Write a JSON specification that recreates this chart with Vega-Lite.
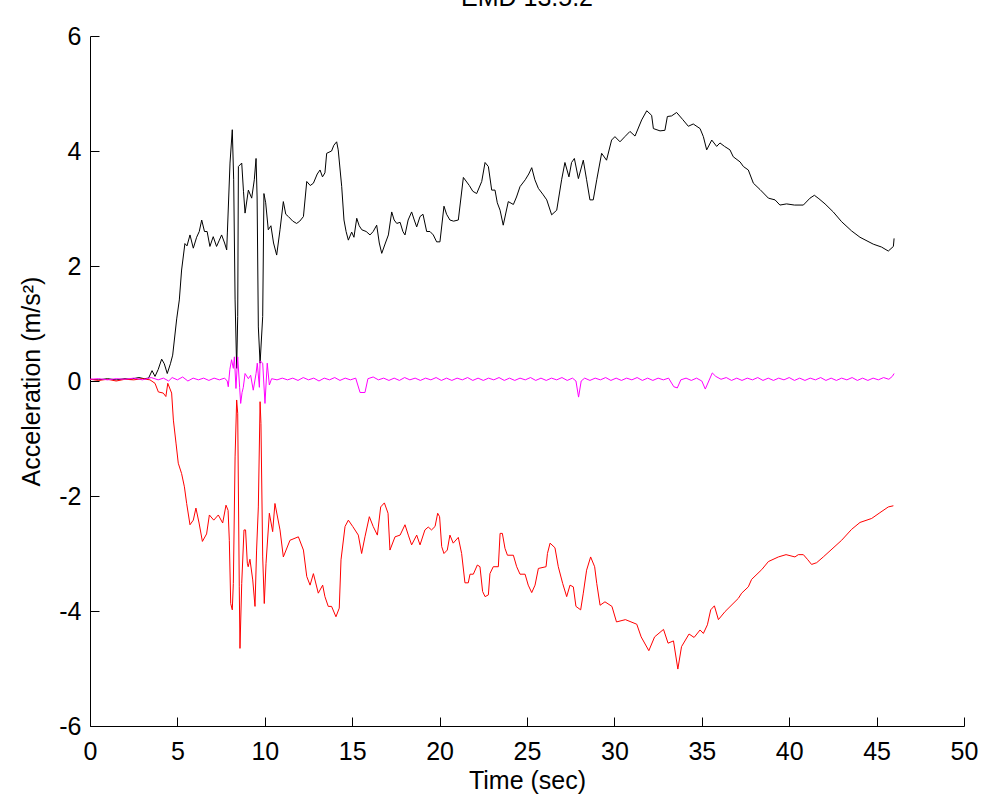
{
  "$schema": "https://vega.github.io/schema/vega-lite/v6.json",
  "width": 874,
  "height": 690,
  "autosize": {"type": "none"},
  "padding": {"left": 90, "top": 36, "right": 20, "bottom": 77},
  "background": "white",
  "config": {
    "view": {"stroke": null},
    "font": "Liberation Sans",
    "axis": {
      "grid": false,
      "domainColor": "#000000",
      "domainWidth": 1,
      "tickColor": "#000000",
      "tickWidth": 1,
      "tickSize": -9,
      "labelFlush": false,
      "labelFont": "Liberation Sans",
      "labelFontSize": 25,
      "labelColor": "#000000",
      "titleFont": "Liberation Sans",
      "titleFontSize": 25,
      "titleFontWeight": "normal",
      "titleColor": "#000000"
    }
  },
  "title": {
    "text": "EMD 13.5.2",
    "font": "Liberation Sans",
    "fontSize": 25,
    "fontWeight": "normal",
    "color": "#000000",
    "baseline": "alphabetic",
    "offset": 6,
    "dy": 13
  },
  "datasets": {
    "black": [
      {"t":0,"v":0.03},{"t":0.5,"v":0.02},{"t":1.0,"v":0.04},{"t":1.5,"v":0.02},{"t":2.0,"v":0.04},{"t":2.3,"v":0.03},{"t":2.8,"v":0.06},{"t":3.1,"v":0.04},{"t":3.35,"v":0.05},{"t":3.55,"v":0.18},{"t":3.72,"v":0.08},{"t":3.9,"v":0.2},{"t":4.1,"v":0.38},{"t":4.25,"v":0.3},{"t":4.42,"v":0.13},{"t":4.6,"v":0.3},{"t":4.73,"v":0.45},{"t":4.96,"v":1.08},{"t":5.11,"v":1.41},{"t":5.24,"v":1.93},{"t":5.43,"v":2.39},{"t":5.55,"v":2.35},{"t":5.72,"v":2.54},{"t":5.91,"v":2.31},{"t":6.1,"v":2.5},{"t":6.25,"v":2.6},{"t":6.39,"v":2.8},{"t":6.55,"v":2.6},{"t":6.7,"v":2.6},{"t":6.86,"v":2.34},{"t":7.05,"v":2.51},{"t":7.24,"v":2.34},{"t":7.4,"v":2.45},{"t":7.53,"v":2.54},{"t":7.7,"v":2.4},{"t":7.82,"v":2.28},{"t":7.86,"v":2.59},{"t":8.01,"v":3.79},{"t":8.14,"v":4.37},{"t":8.22,"v":3.5},{"t":8.3,"v":1.41},{"t":8.39,"v":0.22},{"t":8.45,"v":1.12},{"t":8.49,"v":3.73},{"t":8.68,"v":3.79},{"t":8.78,"v":3.3},{"t":8.87,"v":2.92},{"t":9.06,"v":3.32},{"t":9.25,"v":3.18},{"t":9.4,"v":3.5},{"t":9.5,"v":3.87},{"t":9.56,"v":3.2},{"t":9.63,"v":0.94},{"t":9.73,"v":0.31},{"t":9.88,"v":1.12},{"t":9.95,"v":3.26},{"t":10.05,"v":3.1},{"t":10.2,"v":2.63},{"t":10.35,"v":2.7},{"t":10.5,"v":2.4},{"t":10.68,"v":2.19},{"t":10.87,"v":2.63},{"t":11.06,"v":3.12},{"t":11.2,"v":2.9},{"t":11.35,"v":2.86},{"t":11.6,"v":2.78},{"t":11.82,"v":2.74},{"t":12.0,"v":2.78},{"t":12.21,"v":2.86},{"t":12.4,"v":3.47},{"t":12.6,"v":3.4},{"t":12.78,"v":3.44},{"t":13.0,"v":3.6},{"t":13.16,"v":3.67},{"t":13.3,"v":3.55},{"t":13.44,"v":3.62},{"t":13.54,"v":3.96},{"t":13.82,"v":4.0},{"t":13.95,"v":4.1},{"t":14.11,"v":4.16},{"t":14.2,"v":4.02},{"t":14.4,"v":3.38},{"t":14.53,"v":2.8},{"t":14.65,"v":2.6},{"t":14.78,"v":2.45},{"t":14.97,"v":2.59},{"t":15.1,"v":2.5},{"t":15.26,"v":2.83},{"t":15.4,"v":2.7},{"t":15.55,"v":2.63},{"t":15.8,"v":2.6},{"t":16.02,"v":2.54},{"t":16.2,"v":2.6},{"t":16.4,"v":2.71},{"t":16.55,"v":2.4},{"t":16.69,"v":2.22},{"t":16.9,"v":2.4},{"t":17.07,"v":2.54},{"t":17.26,"v":2.94},{"t":17.4,"v":2.8},{"t":17.55,"v":2.74},{"t":17.74,"v":2.76},{"t":17.9,"v":2.6},{"t":18.02,"v":2.54},{"t":18.2,"v":2.8},{"t":18.4,"v":2.94},{"t":18.55,"v":2.8},{"t":18.69,"v":2.68},{"t":18.88,"v":2.86},{"t":19.05,"v":2.9},{"t":19.26,"v":2.6},{"t":19.45,"v":2.6},{"t":19.64,"v":2.54},{"t":19.83,"v":2.42},{"t":20.02,"v":2.42},{"t":20.25,"v":3.04},{"t":20.4,"v":2.9},{"t":20.59,"v":2.8},{"t":20.8,"v":2.78},{"t":21.07,"v":2.8},{"t":21.36,"v":3.54},{"t":21.7,"v":3.4},{"t":21.9,"v":3.3},{"t":22.12,"v":3.26},{"t":22.41,"v":3.47},{"t":22.6,"v":3.8},{"t":22.79,"v":3.73},{"t":22.98,"v":3.32},{"t":23.17,"v":3.32},{"t":23.3,"v":3.1},{"t":23.46,"v":2.97},{"t":23.64,"v":2.71},{"t":23.93,"v":3.12},{"t":24.22,"v":3.07},{"t":24.4,"v":3.2},{"t":24.6,"v":3.38},{"t":24.9,"v":3.5},{"t":25.1,"v":3.6},{"t":25.27,"v":3.71},{"t":25.45,"v":3.5},{"t":25.65,"v":3.35},{"t":25.9,"v":3.25},{"t":26.13,"v":3.15},{"t":26.41,"v":2.89},{"t":26.7,"v":2.97},{"t":26.98,"v":3.5},{"t":27.17,"v":3.8},{"t":27.4,"v":3.55},{"t":27.55,"v":3.8},{"t":27.71,"v":3.87},{"t":27.94,"v":3.52},{"t":28.22,"v":3.84},{"t":28.41,"v":3.5},{"t":28.6,"v":3.15},{"t":28.79,"v":3.15},{"t":28.99,"v":3.5},{"t":29.27,"v":3.96},{"t":29.55,"v":3.84},{"t":29.84,"v":4.19},{"t":30.03,"v":4.25},{"t":30.32,"v":4.16},{"t":30.6,"v":4.25},{"t":30.89,"v":4.34},{"t":31.18,"v":4.26},{"t":31.56,"v":4.54},{"t":31.85,"v":4.7},{"t":32.13,"v":4.62},{"t":32.23,"v":4.39},{"t":32.61,"v":4.35},{"t":32.89,"v":4.36},{"t":33.03,"v":4.6},{"t":33.27,"v":4.61},{"t":33.56,"v":4.67},{"t":33.9,"v":4.55},{"t":34.23,"v":4.43},{"t":34.51,"v":4.47},{"t":34.9,"v":4.39},{"t":35.09,"v":4.25},{"t":35.28,"v":4.02},{"t":35.57,"v":4.19},{"t":35.85,"v":4.08},{"t":36.04,"v":4.14},{"t":36.3,"v":4.08},{"t":36.61,"v":4.02},{"t":36.8,"v":3.9},{"t":37.19,"v":3.81},{"t":37.38,"v":3.73},{"t":37.66,"v":3.67},{"t":37.95,"v":3.44},{"t":38.33,"v":3.33},{"t":38.81,"v":3.18},{"t":39.19,"v":3.15},{"t":39.47,"v":3.06},{"t":39.85,"v":3.08},{"t":40.3,"v":3.06},{"t":40.81,"v":3.06},{"t":41.19,"v":3.18},{"t":41.44,"v":3.23},{"t":41.7,"v":3.17},{"t":42.05,"v":3.08},{"t":42.52,"v":2.94},{"t":43.0,"v":2.77},{"t":43.57,"v":2.61},{"t":44.05,"v":2.5},{"t":44.81,"v":2.38},{"t":45.28,"v":2.33},{"t":45.67,"v":2.26},{"t":45.96,"v":2.34},{"t":46.0,"v":2.48}
    ],
    "red": [
      {"t":0,"v":0.03},{"t":0.5,"v":0.01},{"t":1.0,"v":0.03},{"t":1.5,"v":0.0},{"t":2.0,"v":0.03},{"t":2.5,"v":0.02},{"t":3.0,"v":0.04},{"t":3.43,"v":0.02},{"t":3.72,"v":-0.04},{"t":3.91,"v":-0.19},{"t":4.19,"v":-0.21},{"t":4.34,"v":-0.27},{"t":4.45,"v":-0.04},{"t":4.67,"v":-0.21},{"t":4.77,"v":-0.68},{"t":4.92,"v":-1.08},{"t":5.05,"v":-1.43},{"t":5.24,"v":-1.61},{"t":5.4,"v":-1.84},{"t":5.53,"v":-2.13},{"t":5.72,"v":-2.5},{"t":5.91,"v":-2.42},{"t":6.06,"v":-2.21},{"t":6.24,"v":-2.47},{"t":6.43,"v":-2.79},{"t":6.67,"v":-2.66},{"t":6.83,"v":-2.33},{"t":7.08,"v":-2.42},{"t":7.34,"v":-2.33},{"t":7.59,"v":-2.47},{"t":7.78,"v":-2.16},{"t":7.9,"v":-2.25},{"t":7.97,"v":-2.77},{"t":8.05,"v":-3.87},{"t":8.14,"v":-3.98},{"t":8.2,"v":-3.52},{"t":8.3,"v":-1.32},{"t":8.39,"v":-0.33},{"t":8.45,"v":-0.56},{"t":8.54,"v":-3.58},{"t":8.58,"v":-4.65},{"t":8.68,"v":-3.52},{"t":8.81,"v":-2.59},{"t":8.9,"v":-2.59},{"t":9.0,"v":-3.17},{"t":9.05,"v":-3.23},{"t":9.15,"v":-3.1},{"t":9.31,"v":-3.46},{"t":9.44,"v":-3.92},{"t":9.53,"v":-2.94},{"t":9.63,"v":-2.19},{"t":9.73,"v":-0.36},{"t":9.78,"v":-0.74},{"t":9.88,"v":-3.06},{"t":9.97,"v":-3.87},{"t":10.07,"v":-3.17},{"t":10.26,"v":-2.3},{"t":10.45,"v":-2.62},{"t":10.58,"v":-2.13},{"t":10.87,"v":-2.59},{"t":11.06,"v":-3.06},{"t":11.44,"v":-2.77},{"t":11.92,"v":-2.71},{"t":12.21,"v":-2.94},{"t":12.4,"v":-3.4},{"t":12.59,"v":-3.55},{"t":12.78,"v":-3.35},{"t":13.06,"v":-3.69},{"t":13.31,"v":-3.55},{"t":13.44,"v":-3.75},{"t":13.63,"v":-3.92},{"t":13.82,"v":-3.92},{"t":14.07,"v":-4.1},{"t":14.26,"v":-3.95},{"t":14.36,"v":-3.11},{"t":14.59,"v":-2.53},{"t":14.78,"v":-2.42},{"t":15.03,"v":-2.53},{"t":15.35,"v":-2.68},{"t":15.54,"v":-3.0},{"t":15.73,"v":-2.71},{"t":15.98,"v":-2.36},{"t":16.2,"v":-2.53},{"t":16.44,"v":-2.68},{"t":16.63,"v":-2.19},{"t":16.84,"v":-2.12},{"t":17.05,"v":-2.3},{"t":17.16,"v":-2.94},{"t":17.45,"v":-2.71},{"t":17.74,"v":-2.68},{"t":18.02,"v":-2.5},{"t":18.21,"v":-2.68},{"t":18.4,"v":-2.85},{"t":18.69,"v":-2.68},{"t":18.88,"v":-2.85},{"t":19.16,"v":-2.59},{"t":19.35,"v":-2.54},{"t":19.54,"v":-2.59},{"t":19.74,"v":-2.53},{"t":19.89,"v":-2.3},{"t":20.0,"v":-2.36},{"t":20.12,"v":-2.88},{"t":20.25,"v":-3.0},{"t":20.44,"v":-2.94},{"t":20.59,"v":-2.68},{"t":20.78,"v":-2.82},{"t":21.07,"v":-2.72},{"t":21.26,"v":-3.0},{"t":21.45,"v":-3.51},{"t":21.64,"v":-3.51},{"t":21.74,"v":-3.36},{"t":21.93,"v":-3.36},{"t":22.16,"v":-3.2},{"t":22.31,"v":-3.23},{"t":22.46,"v":-3.66},{"t":22.6,"v":-3.75},{"t":22.79,"v":-3.72},{"t":22.88,"v":-3.35},{"t":23.07,"v":-3.23},{"t":23.36,"v":-3.23},{"t":23.46,"v":-2.65},{"t":23.59,"v":-2.65},{"t":23.74,"v":-2.91},{"t":23.88,"v":-3.03},{"t":24.22,"v":-3.03},{"t":24.41,"v":-3.23},{"t":24.6,"v":-3.36},{"t":24.89,"v":-3.36},{"t":25.07,"v":-3.55},{"t":25.27,"v":-3.68},{"t":25.46,"v":-3.55},{"t":25.65,"v":-3.26},{"t":26.09,"v":-3.23},{"t":26.17,"v":-3.0},{"t":26.32,"v":-2.82},{"t":26.6,"v":-2.9},{"t":26.79,"v":-3.23},{"t":27.04,"v":-3.52},{"t":27.27,"v":-3.75},{"t":27.46,"v":-3.55},{"t":27.65,"v":-3.58},{"t":27.8,"v":-3.92},{"t":28.07,"v":-3.98},{"t":28.22,"v":-3.69},{"t":28.41,"v":-3.29},{"t":28.64,"v":-3.06},{"t":28.87,"v":-3.23},{"t":28.99,"v":-3.52},{"t":29.18,"v":-3.9},{"t":29.46,"v":-3.84},{"t":29.86,"v":-3.92},{"t":30.12,"v":-4.19},{"t":30.63,"v":-4.15},{"t":31.28,"v":-4.23},{"t":31.53,"v":-4.45},{"t":31.97,"v":-4.69},{"t":32.3,"v":-4.45},{"t":32.81,"v":-4.32},{"t":33.07,"v":-4.56},{"t":33.38,"v":-4.52},{"t":33.63,"v":-5.01},{"t":33.84,"v":-4.62},{"t":34.27,"v":-4.4},{"t":34.56,"v":-4.46},{"t":34.9,"v":-4.33},{"t":35.09,"v":-4.39},{"t":35.32,"v":-4.24},{"t":35.51,"v":-3.98},{"t":35.72,"v":-3.91},{"t":35.95,"v":-4.15},{"t":36.33,"v":-4.01},{"t":37.09,"v":-3.78},{"t":37.28,"v":-3.69},{"t":37.66,"v":-3.58},{"t":37.85,"v":-3.45},{"t":38.43,"v":-3.28},{"t":38.81,"v":-3.14},{"t":39.38,"v":-3.06},{"t":39.82,"v":-3.02},{"t":40.33,"v":-3.06},{"t":40.52,"v":-3.02},{"t":40.81,"v":-3.02},{"t":41.04,"v":-3.1},{"t":41.28,"v":-3.19},{"t":41.57,"v":-3.16},{"t":41.95,"v":-3.06},{"t":43.0,"v":-2.77},{"t":43.57,"v":-2.58},{"t":44.05,"v":-2.46},{"t":44.72,"v":-2.39},{"t":45.19,"v":-2.29},{"t":45.67,"v":-2.19},{"t":45.96,"v":-2.17}
    ],
    "magenta": [
      {"t":0,"v":0.03},{"t":0.5,"v":0.04},{"t":1.0,"v":0.02},{"t":1.5,"v":0.04},{"t":2.0,"v":0.03},{"t":2.5,"v":0.05},{"t":3.0,"v":0.02},{"t":3.5,"v":0.06},{"t":3.9,"v":0.02},{"t":4.2,"v":0.05},{"t":4.5,"v":0.0},{"t":4.7,"v":0.06},{"t":5.0,"v":0.02},{"t":5.3,"v":0.07},{"t":5.6,"v":0.0},{"t":5.9,"v":0.05},{"t":6.2,"v":0.02},{"t":6.5,"v":0.05},{"t":6.8,"v":0.01},{"t":7.1,"v":0.05},{"t":7.4,"v":0.02},{"t":7.7,"v":0.05},{"t":7.85,"v":0.0},{"t":7.91,"v":-0.1},{"t":8.0,"v":0.2},{"t":8.1,"v":0.37},{"t":8.2,"v":0.22},{"t":8.26,"v":0.42},{"t":8.35,"v":-0.13},{"t":8.45,"v":0.42},{"t":8.56,"v":-0.11},{"t":8.62,"v":-0.39},{"t":8.7,"v":-0.2},{"t":8.77,"v":-0.11},{"t":8.87,"v":0.13},{"t":9.06,"v":0.04},{"t":9.19,"v":0.1},{"t":9.34,"v":-0.16},{"t":9.5,"v":0.13},{"t":9.57,"v":0.31},{"t":9.69,"v":-0.11},{"t":9.73,"v":0.35},{"t":9.88,"v":0.31},{"t":10.01,"v":-0.39},{"t":10.14,"v":0.31},{"t":10.26,"v":-0.07},{"t":10.39,"v":0.04},{"t":10.7,"v":0.02},{"t":11.0,"v":0.05},{"t":11.3,"v":0.02},{"t":11.6,"v":0.05},{"t":11.9,"v":0.01},{"t":12.2,"v":0.06},{"t":12.5,"v":0.02},{"t":12.8,"v":0.05},{"t":13.1,"v":0.0},{"t":13.4,"v":0.05},{"t":13.7,"v":0.02},{"t":14.0,"v":0.06},{"t":14.3,"v":0.01},{"t":14.6,"v":0.05},{"t":14.9,"v":0.02},{"t":15.2,"v":0.05},{"t":15.45,"v":-0.2},{"t":15.73,"v":-0.2},{"t":15.9,"v":0.04},{"t":16.2,"v":0.07},{"t":16.5,"v":0.02},{"t":16.8,"v":0.05},{"t":17.1,"v":0.01},{"t":17.4,"v":0.05},{"t":17.7,"v":0.01},{"t":18.0,"v":0.06},{"t":18.3,"v":0.02},{"t":18.6,"v":0.05},{"t":18.9,"v":0.01},{"t":19.2,"v":0.05},{"t":19.5,"v":0.02},{"t":19.8,"v":0.06},{"t":20.1,"v":0.01},{"t":20.4,"v":0.05},{"t":20.7,"v":0.01},{"t":21.0,"v":0.05},{"t":21.3,"v":0.02},{"t":21.6,"v":0.06},{"t":21.9,"v":0.01},{"t":22.2,"v":0.05},{"t":22.5,"v":0.01},{"t":22.8,"v":0.05},{"t":23.1,"v":0.02},{"t":23.4,"v":0.06},{"t":23.7,"v":0.01},{"t":24.0,"v":0.05},{"t":24.3,"v":0.01},{"t":24.6,"v":0.05},{"t":24.9,"v":0.02},{"t":25.2,"v":0.06},{"t":25.5,"v":0.01},{"t":25.8,"v":0.05},{"t":26.1,"v":0.01},{"t":26.4,"v":0.05},{"t":26.7,"v":0.02},{"t":27.0,"v":0.06},{"t":27.3,"v":0.01},{"t":27.6,"v":0.05},{"t":27.8,"v":0.0},{"t":27.95,"v":-0.28},{"t":28.1,"v":0.0},{"t":28.3,"v":0.05},{"t":28.6,"v":0.01},{"t":28.9,"v":0.05},{"t":29.2,"v":0.02},{"t":29.5,"v":0.06},{"t":29.8,"v":0.01},{"t":30.1,"v":0.05},{"t":30.4,"v":0.01},{"t":30.7,"v":0.05},{"t":31.0,"v":0.02},{"t":31.3,"v":0.06},{"t":31.6,"v":0.01},{"t":31.9,"v":0.05},{"t":32.2,"v":0.01},{"t":32.5,"v":0.05},{"t":32.8,"v":0.02},{"t":33.1,"v":0.05},{"t":33.4,"v":-0.1},{"t":33.6,"v":-0.12},{"t":33.8,"v":0.02},{"t":34.1,"v":0.05},{"t":34.4,"v":0.01},{"t":34.7,"v":0.05},{"t":35.0,"v":0.0},{"t":35.2,"v":-0.14},{"t":35.4,"v":0.0},{"t":35.6,"v":0.14},{"t":35.8,"v":0.08},{"t":36.1,"v":0.03},{"t":36.4,"v":0.06},{"t":36.7,"v":0.01},{"t":37.0,"v":0.05},{"t":37.3,"v":0.01},{"t":37.6,"v":0.05},{"t":37.9,"v":0.02},{"t":38.2,"v":0.06},{"t":38.5,"v":0.01},{"t":38.8,"v":0.05},{"t":39.1,"v":0.01},{"t":39.4,"v":0.05},{"t":39.7,"v":0.02},{"t":40.0,"v":0.06},{"t":40.3,"v":0.01},{"t":40.6,"v":0.05},{"t":40.9,"v":0.01},{"t":41.2,"v":0.05},{"t":41.5,"v":0.02},{"t":41.8,"v":0.06},{"t":42.1,"v":0.01},{"t":42.4,"v":0.05},{"t":42.7,"v":0.01},{"t":43.0,"v":0.05},{"t":43.3,"v":0.02},{"t":43.6,"v":0.06},{"t":43.9,"v":0.01},{"t":44.2,"v":0.05},{"t":44.5,"v":0.01},{"t":44.8,"v":0.05},{"t":45.1,"v":0.02},{"t":45.4,"v":0.06},{"t":45.7,"v":0.03},{"t":45.9,"v":0.08},{"t":46.0,"v":0.13}
    ]
  },
  "layer": [
    {
      "data": {"name": "black"},
      "mark": {"type": "line", "color": "#000000", "strokeWidth": 1},
      "encoding": {
        "x": {"field": "t", "type": "quantitative", "title": "Time (sec)",
              "scale": {"domain": [0, 50], "nice": false},
              "axis": {"values": [0,5,10,15,20,25,30,35,40,45,50], "labelExpr": "'' + datum.value", "labelPadding": 22, "titlePadding": 4}},
        "y": {"field": "v", "type": "quantitative", "title": "Acceleration (m/s²)",
              "scale": {"domain": [-6, 6], "nice": false},
              "axis": {"values": [-6,-4,-2,0,2,4,6], "labelExpr": "'' + datum.value", "labelPadding": 18, "titlePadding": 14}}
      }
    },
    {
      "data": {"name": "red"},
      "mark": {"type": "line", "color": "#ff0000", "strokeWidth": 1},
      "encoding": {
        "x": {"field": "t", "type": "quantitative"},
        "y": {"field": "v", "type": "quantitative"}
      }
    },
    {
      "data": {"name": "magenta"},
      "mark": {"type": "line", "color": "#ff00ff", "strokeWidth": 1},
      "encoding": {
        "x": {"field": "t", "type": "quantitative"},
        "y": {"field": "v", "type": "quantitative"}
      }
    }
  ]
}
